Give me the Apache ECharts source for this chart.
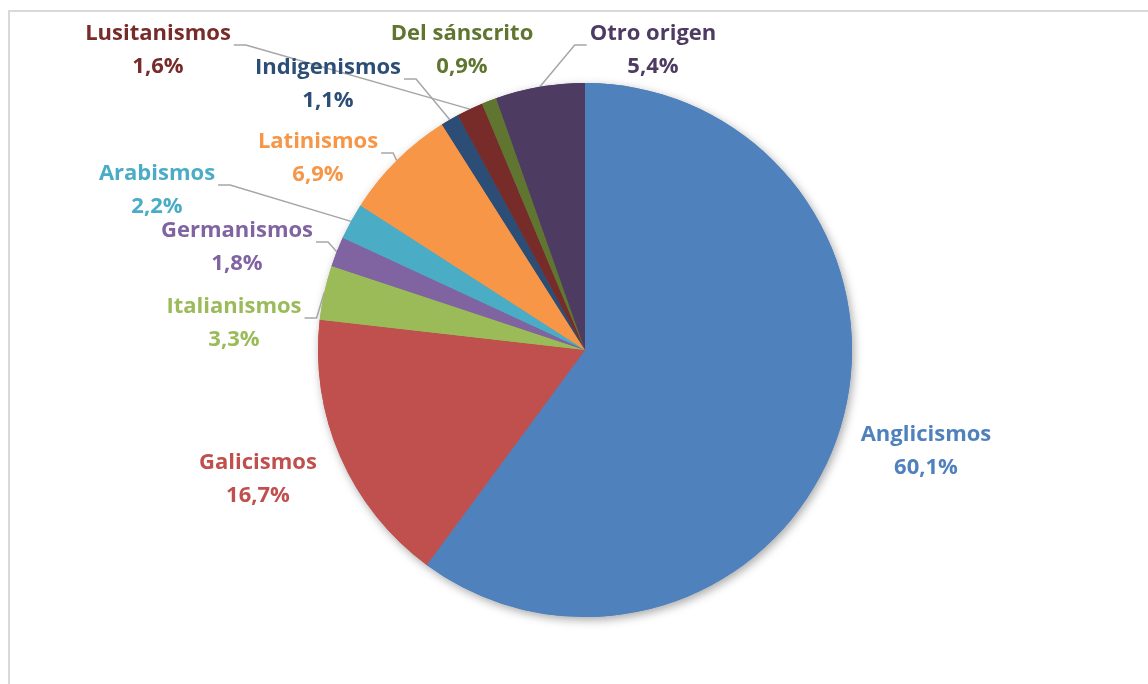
<!DOCTYPE html>
<html>
<head>
<meta charset="utf-8">
<script src="https://cdn.jsdelivr.net/npm/echarts@6/dist/echarts.min.js"></script>
<style>
  html, body { margin: 0; padding: 0; width: 1148px; height: 684px; overflow: hidden; background: #ffffff; }
  #frame { position: absolute; left: 8px; top: 10px; width: 2000px; height: 2000px;
           border-top: 2px solid #d9d9d9; border-left: 2px solid #d9d9d9; }
  #chart { position: absolute; left: 0; top: 0; width: 1148px; height: 684px; }
</style>
</head>
<body>
<div id="frame"></div>
<div id="chart"></div>
<script>
// ---- data ----
const categories = ['Anglicismos', 'Galicismos', 'Italianismos', 'Germanismos', 'Arabismos',
                    'Latinismos', 'Indigenismos', 'Lusitanismos', 'Del sánscrito', 'Otro origen'];
const shares = [60.1, 16.7, 3.3, 1.8, 2.2, 6.9, 1.1, 1.6, 0.9, 5.4];

// ---- styling / layout (not data) ----
const colors = ['#4F81BD', '#C0504D', '#9BBB59', '#8064A2', '#4BACC6',
                '#F79646', '#2C4D75', '#772C2A', '#5F7530', '#4D3B62'];
const labelCenters = [[926, 451], [258, 479], [234, 323], [237, 247], [157, 190],
                      [318, 158], [328, 84], [158, 50], [462, 50], [653, 50]];
const showLeader = [false, false, true, true, true, true, true, true, false, true];

const chart = echarts.init(document.getElementById('chart'), null, { renderer: 'canvas' });

const fmt = v => v.toFixed(1).replace('.', ',') + '%';

const pieCommon = {
  type: 'pie',
  center: [585, 350],
  radius: [0, 267],
  startAngle: 90,
  clockwise: true,
  avoidLabelOverlap: false
};

const option = {
  animation: false,
  backgroundColor: 'transparent',
  series: [
    // soft outer shadow layer (same slices, drawn underneath)
    Object.assign({}, pieCommon, {
      z: 1,
      silent: true,
      data: categories.map((name, i) => ({ name: name, value: shares[i], itemStyle: { color: colors[i] } })),
      itemStyle: { borderWidth: 0, shadowBlur: 10, shadowColor: 'rgba(0,0,0,0.35)', shadowOffsetX: 2, shadowOffsetY: 3 },
      label: { show: false },
      labelLine: { show: false }
    }),
    Object.assign({}, pieCommon, {
      z: 2,
      data: categories.map((name, i) => ({
        name: name,
        value: shares[i],
        itemStyle: { color: colors[i] },
        label: { color: colors[i] },
        labelLine: { show: showLeader[i] }
      })),
      itemStyle: { borderWidth: 0 },
      label: {
        show: true,
        position: 'outside',
        formatter: p => p.name + '\n' + fmt(p.value),
        fontFamily: 'Open Sans',
        fontWeight: 'bold',
        fontSize: 22,
        lineHeight: 33,
        align: 'center'
      },
      labelLine: {
        show: true,
        lineStyle: { color: '#A6A6A6', width: 1.5 }
      },
      labelLayout: function (params) {
        const i = params.dataIndex;
        const c = labelCenters[i];
        const out = { x: c[0], y: c[1], align: 'center', verticalAlign: 'middle' };
        if (showLeader[i] && params.labelLinePoints) {
          const anchor = params.labelLinePoints[0];
          const w = params.labelRect.width;
          const ay = c[1] - 5;
          let ax, ex;
          if (anchor[0] > c[0]) { ax = c[0] + w / 2 + 3; ex = ax + 12; }
          else { ax = c[0] - w / 2 - 3; ex = ax - 12; }
          out.labelLinePoints = [[anchor[0], anchor[1]], [ex, ay], [ax, ay]];
        }
        return out;
      }
    })
  ]
};
chart.setOption(option);
</script>
</body>
</html>
